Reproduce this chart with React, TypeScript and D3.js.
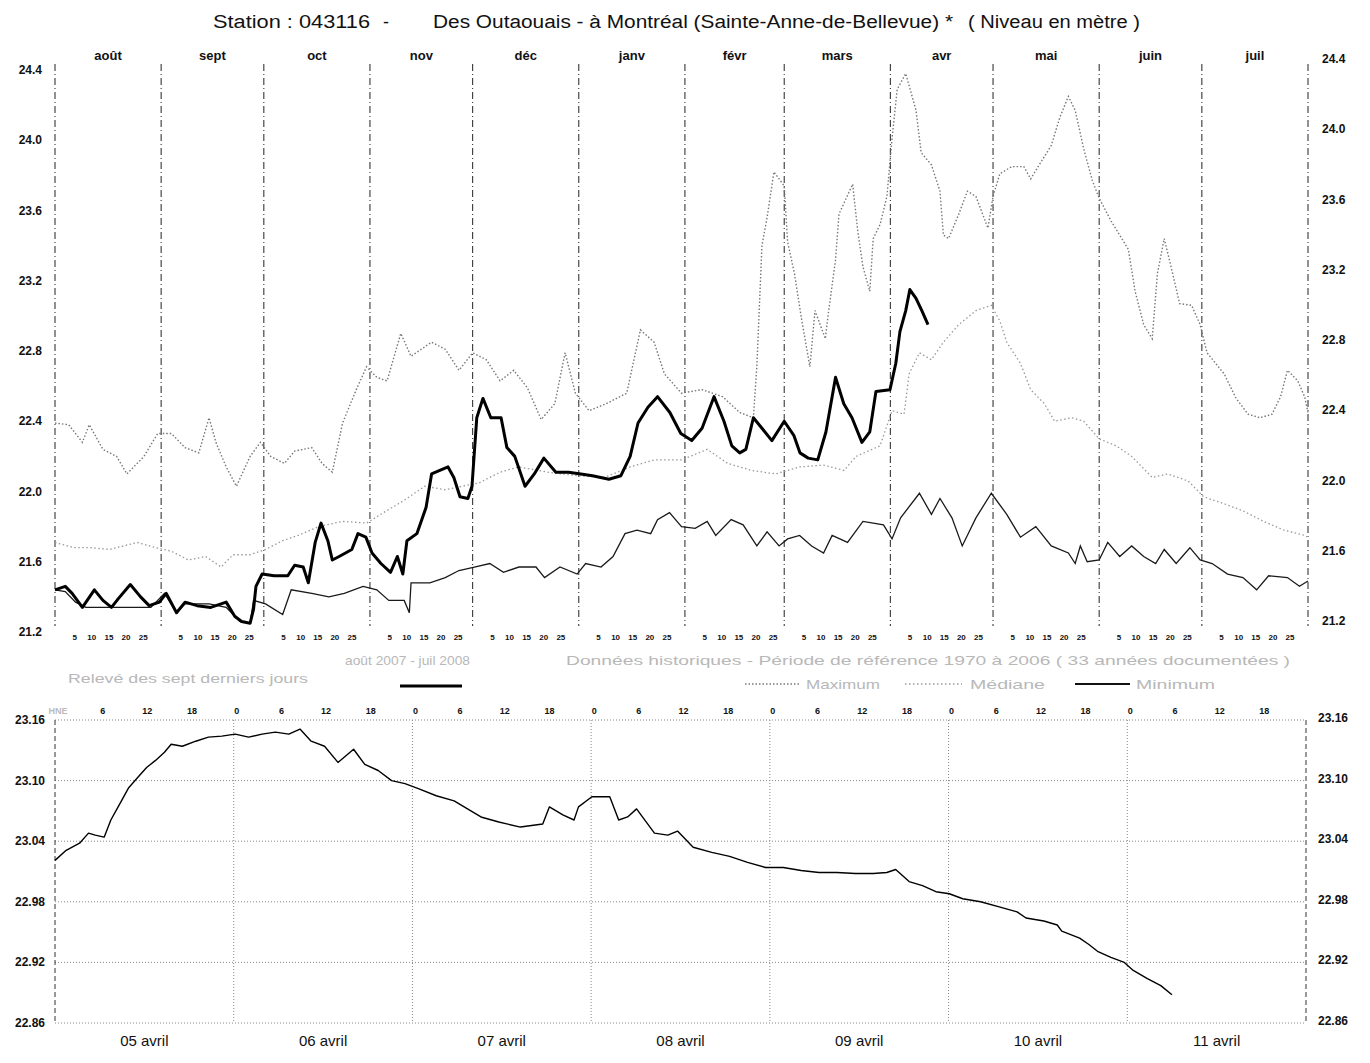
import React from 'react';
import * as d3 from 'd3';

// Station 043116 - Des Outaouais à Montréal (Sainte-Anne-de-Bellevue)
const months = ['août', 'sept', 'oct', 'nov', 'déc', 'janv', 'févr', 'mars', 'avr', 'mai', 'juin', 'juil'];
const dayTicks = [5, 10, 15, 20, 25];
const levelTicks = [21.2, 21.6, 22.0, 22.4, 22.8, 23.2, 23.6, 24.0, 24.4];

// [jours depuis le 1er août, niveau (m)]
const maxSeries: [number, number][] = [
  [0, 22.39], [4, 22.38], [8, 22.28], [10, 22.38], [14, 22.24], [18, 22.2], [21, 22.1], [26, 22.2], [30, 22.33],
  [34, 22.33], [38, 22.25], [42, 22.22], [45, 22.42], [47, 22.28], [50, 22.14], [53, 22.03], [57, 22.2], [60, 22.28],
  [63, 22.2], [67, 22.16], [70, 22.23], [75, 22.25], [78, 22.16], [81, 22.11], [84, 22.39], [88, 22.58], [91, 22.71],
  [94, 22.65], [97, 22.63], [101, 22.9], [104, 22.77], [110, 22.85], [114, 22.81], [118, 22.69], [122, 22.79],
  [126, 22.75], [130, 22.63], [134, 22.69], [138, 22.59], [142, 22.41], [146, 22.5], [149, 22.79], [152, 22.56],
  [156, 22.46], [161, 22.5], [167, 22.56], [171, 22.92], [175, 22.85], [178, 22.67], [183, 22.56], [189, 22.58],
  [195, 22.54], [200, 22.45], [204, 22.42], [205, 22.71], [206.5, 23.4], [208, 23.56], [210, 23.82], [213, 23.74],
  [214, 23.42], [216, 23.24], [218, 22.99], [220.5, 22.71], [222, 23.03], [225, 22.87], [226, 23.03], [228, 23.32],
  [229, 23.58], [233, 23.75], [234.5, 23.48], [236, 23.28], [238, 23.14], [239, 23.44], [241, 23.52], [243, 23.68],
  [244.5, 24.01], [246, 24.29], [248.5, 24.38], [251.5, 24.17], [253, 23.93], [256, 23.86], [258.5, 23.71],
  [259.5, 23.46], [261, 23.44], [264, 23.58], [266.5, 23.71], [269, 23.68], [272.5, 23.5], [274, 23.68], [276, 23.81],
  [279.5, 23.85], [283, 23.85], [285, 23.78], [287.5, 23.86], [291, 23.97], [293.5, 24.13], [296, 24.25], [298, 24.17],
  [300.5, 23.95], [303, 23.77], [305, 23.67], [308.5, 23.54], [313.5, 23.38], [315.5, 23.14], [318, 22.95],
  [320.5, 22.87], [322, 23.24], [324, 23.44], [326, 23.28], [328.5, 23.07], [332, 23.06], [334.5, 22.95],
  [336.5, 22.79], [341.5, 22.67], [345, 22.53], [348.5, 22.44], [352, 22.42], [355.5, 22.44], [358, 22.54],
  [360, 22.69], [363, 22.63], [365, 22.54], [366, 22.45],
];

const medianSeries: [number, number][] = [
  [0, 21.71], [5.5, 21.68], [10.5, 21.68], [16, 21.67], [24, 21.71], [29.5, 21.68], [34, 21.66], [39, 21.61],
  [44, 21.63], [48.5, 21.57], [52, 21.64], [57, 21.64], [61.5, 21.67], [66.5, 21.72], [71, 21.75], [77, 21.8],
  [84, 21.83], [91, 21.82], [96, 21.88], [102, 21.95], [108, 22.03], [114, 22.01], [119, 22.03], [124, 22.05],
  [130, 22.11], [135.5, 22.14], [144, 22.11], [152.5, 22.09], [160.5, 22.08], [168, 22.14], [175, 22.18],
  [183, 22.18], [190.5, 22.24], [196.5, 22.16], [203.5, 22.12], [210.5, 22.1], [217.5, 22.14], [224.5, 22.15],
  [230.5, 22.12], [234, 22.2], [241, 22.26], [244.5, 22.46], [248, 22.44], [249.5, 22.67], [252.5, 22.79],
  [256, 22.75], [259.5, 22.85], [264, 22.95], [269, 23.03], [273.5, 23.06], [276, 22.97], [278, 22.85],
  [282, 22.73], [285, 22.58], [289, 22.5], [292, 22.4], [297, 22.42], [300.5, 22.4], [305, 22.3], [310, 22.26],
  [314.5, 22.2], [320.5, 22.08], [325, 22.1], [331, 22.06], [335.5, 21.97], [341.5, 21.93], [347, 21.89],
  [353, 21.83], [359, 21.78], [365, 21.75], [366, 21.74],
];

const minSeries: [number, number][] = [
  [0, 21.44], [3, 21.43], [6, 21.37], [9, 21.34], [28, 21.34], [32, 21.42], [35.5, 21.31], [38, 21.36], [45, 21.36],
  [50, 21.34], [54, 21.26], [57, 21.25], [58, 21.38], [61.5, 21.36], [66.5, 21.3], [69, 21.44], [75, 21.42],
  [80, 21.4], [84.5, 21.42], [90, 21.46], [94, 21.44], [97.5, 21.38], [102, 21.38], [103.5, 21.31], [104, 21.48],
  [109.5, 21.48], [114, 21.51], [118, 21.55], [122.5, 21.57], [127, 21.59], [131, 21.54], [135.5, 21.57],
  [140.5, 21.57], [143, 21.51], [147.5, 21.57], [152.5, 21.53], [155, 21.59], [159.5, 21.57], [163, 21.63],
  [166.5, 21.76], [170, 21.78], [174, 21.76], [176, 21.84], [179.5, 21.88], [183, 21.8], [187, 21.79],
  [190.5, 21.83], [193, 21.75], [197.5, 21.84], [201, 21.81], [205, 21.69], [208, 21.77], [211.5, 21.69],
  [214, 21.73], [217.5, 21.75], [221, 21.69], [224.5, 21.65], [227, 21.75], [231.5, 21.71], [236, 21.83],
  [242, 21.81], [244.5, 21.73], [247, 21.85], [252.5, 21.99], [256, 21.87], [258.5, 21.96], [262, 21.85],
  [265, 21.69], [269, 21.85], [273.5, 21.99], [278, 21.87], [282, 21.74], [286.5, 21.8], [291, 21.69],
  [296, 21.65], [298, 21.59], [299.5, 21.69], [301.5, 21.6], [305, 21.61], [307.5, 21.71], [311, 21.63],
  [314.5, 21.69], [318, 21.63], [321.5, 21.59], [324, 21.67], [327.5, 21.59], [331.5, 21.68], [334.5, 21.61],
  [338, 21.59], [342.5, 21.53], [347, 21.51], [351, 21.44], [354.5, 21.52], [360, 21.51], [363.5, 21.46],
  [366, 21.49],
];

// août 2007 - juil 2008
const currentSeries: [number, number][] = [
  [0, 21.44], [3, 21.46], [5, 21.42], [8, 21.34], [11.5, 21.44], [14, 21.38], [16.5, 21.34], [18.5, 21.39],
  [22, 21.47], [25, 21.4], [27.5, 21.35], [30.5, 21.37], [32.5, 21.42], [35.5, 21.31], [38, 21.37], [41.5, 21.35],
  [45.5, 21.34], [50, 21.37], [52.5, 21.29], [54.5, 21.26], [57, 21.25], [58, 21.33], [58.7, 21.46], [60.5, 21.53],
  [64, 21.52], [68, 21.52], [70, 21.58], [72.5, 21.57], [74, 21.48], [76, 21.71], [77.7, 21.82], [79.7, 21.72],
  [81, 21.61], [83, 21.63], [86.7, 21.67], [88.5, 21.76], [90.8, 21.74], [92.6, 21.65], [95.2, 21.59], [98, 21.54],
  [100, 21.63], [101.6, 21.53], [102.8, 21.72], [105.7, 21.76], [108.4, 21.91], [110, 22.1], [112.4, 22.12],
  [114.8, 22.14], [116.5, 22.08], [118.3, 21.97], [120.6, 21.96], [121.8, 22.03], [123.2, 22.42], [125, 22.53],
  [127.3, 22.42], [130.3, 22.42], [132, 22.25], [134.3, 22.2], [137.3, 22.03], [140, 22.1], [142.8, 22.19],
  [146.3, 22.11], [150, 22.11], [153.6, 22.1], [157, 22.09], [161.8, 22.07], [165.3, 22.09], [168, 22.2],
  [170.3, 22.39], [173.2, 22.48], [176, 22.54], [179.6, 22.45], [182.8, 22.33], [186, 22.29], [189, 22.36],
  [192.5, 22.54], [195.4, 22.4], [197.7, 22.26], [200, 22.22], [201.8, 22.24], [204, 22.42], [206.5, 22.36],
  [209.4, 22.29], [213, 22.4], [215.8, 22.32], [217.6, 22.22], [220, 22.19], [222.8, 22.18], [225.2, 22.34],
  [228, 22.65], [230.4, 22.5], [232.8, 22.42], [235.7, 22.28], [238, 22.34], [239.8, 22.57], [243.9, 22.58],
  [245.6, 22.73], [246.8, 22.91], [248.5, 23.03], [249.7, 23.15], [251.5, 23.1], [253.2, 23.03], [255, 22.95],
];

// relevé des sept derniers jours : [heures depuis le 05 avril 0h, niveau (m)]
const recentSeries: [number, number][] = [
  [0, 23.021], [1.5, 23.031], [3.3, 23.038], [4.5, 23.048], [5.4, 23.046], [6.6, 23.044], [7.5, 23.061],
  [8.7, 23.077], [9.9, 23.093], [11.1, 23.103], [12.3, 23.113], [13.5, 23.12], [14.7, 23.128], [15.6, 23.136],
  [17.1, 23.134], [18.9, 23.139], [20.6, 23.143], [22.4, 23.144], [24.2, 23.146], [26, 23.143], [27.8, 23.146],
  [29.6, 23.148], [31.4, 23.146], [32.9, 23.151], [34.4, 23.139], [36.2, 23.134], [38, 23.118], [40.1, 23.131],
  [41.6, 23.116], [43.4, 23.11], [45.2, 23.1], [47, 23.097], [48.8, 23.092], [51.2, 23.085], [53.6, 23.08],
  [55.4, 23.072], [57.2, 23.064], [59.6, 23.059], [62.5, 23.054], [65.5, 23.057], [66.4, 23.074], [68.2, 23.066],
  [69.7, 23.061], [70.3, 23.074], [72.1, 23.084], [74.5, 23.084], [75.7, 23.061], [76.9, 23.064], [78.1, 23.072],
  [80.5, 23.048], [82.3, 23.046], [83.6, 23.05], [85.7, 23.034], [88.2, 23.029], [90.6, 23.025], [93, 23.019],
  [95.4, 23.014], [97.8, 23.014], [100.2, 23.011], [102.6, 23.009], [105, 23.009], [107.5, 23.008], [109.9, 23.008],
  [111.7, 23.009], [112.9, 23.012], [114.7, 23.0], [116.5, 22.996], [118.3, 22.99], [120.1, 22.988], [121.9, 22.983],
  [124.3, 22.98], [126.8, 22.975], [129.2, 22.97], [130.4, 22.964], [132.8, 22.961], [134.6, 22.957],
  [135.2, 22.951], [137.6, 22.944], [138.8, 22.938], [140, 22.931], [141.8, 22.925], [143.6, 22.92],
  [144.8, 22.912], [146.7, 22.904], [148.5, 22.897], [150, 22.888],
];
const recentDays = ['05 avril', '06 avril', '07 avril', '08 avril', '09 avril', '10 avril', '11 avril'];
const recentTicks = [22.86, 22.92, 22.98, 23.04, 23.10, 23.16];

const FONT = "'Liberation Sans', Arial, sans-serif";
const LEGEND = '#b8b8b8';

export default function App() {
  const start = new Date(2007, 7, 1);
  const monthStarts = d3.range(13).map(i => d3.timeDay.count(start, new Date(2007, 7 + i, 1)));

  const x = d3.scaleLinear().domain([0, monthStarts[12]]).range([55, 1308]);
  const y = d3.scaleLinear().domain([21.2, 24.4]).range([632, 70]);
  const xb = d3.scaleLinear().domain([0, 168]).range([55, 1306]);
  const yb = d3.scaleLinear().domain([22.86, 23.16]).range([1023, 720]);

  const line = d3.line<[number, number]>().x(d => x(d[0])).y(d => y(d[1]));
  const lineB = d3.line<[number, number]>().x(d => xb(d[0])).y(d => yb(d[1]));

  const hours = d3.range(0, 168, 6);

  return (
    <svg width={1370} height={1063} style={{ position: 'absolute', left: 0, top: 0, background: '#fff' }}
      fontFamily={FONT}>
      {/* titre */}
      <text x={213} y={28} fontSize={18} fill="#111" textLength={157} lengthAdjust="spacingAndGlyphs">Station : 043116</text>
      <text x={383} y={28} fontSize={18} fill="#111">-</text>
      <text x={433} y={28} fontSize={18} fill="#111" textLength={520} lengthAdjust="spacingAndGlyphs">
        Des Outaouais - à Montréal (Sainte-Anne-de-Bellevue) *
      </text>
      <text x={968} y={28} fontSize={18} fill="#111" textLength={172} lengthAdjust="spacingAndGlyphs">( Niveau en mètre )</text>

      {/* ===== graphique annuel ===== */}
      {monthStarts.map((d, i) => (
        <line key={'m' + i} x1={x(d)} x2={x(d)} y1={64} y2={626} stroke="#222" strokeWidth={1}
          strokeDasharray="7,3,1,3" />
      ))}
      {months.map((m, i) => (
        <text key={'ml' + i} x={x((monthStarts[i] + monthStarts[i + 1]) / 2)} y={60} fontSize={13}
          fontWeight="bold" textAnchor="middle" fill="#111">{m}</text>
      ))}
      {months.map((m, i) => dayTicks.map(t => (
        <text key={'dt' + i + '-' + t} x={x(monthStarts[i] + t - 1) + 6} y={640} fontSize={8} fontWeight="bold"
          textAnchor="middle" fill="#111">{t}</text>
      )))}
      {levelTicks.map(v => (
        <g key={'yl' + v}>
          <text x={42} y={y(v) + 4} fontSize={12} fontWeight="bold" textAnchor="end" fill="#111">{v.toFixed(1)}</text>
          <text x={1322} y={y(v) - 7} fontSize={12} fontWeight="bold" fill="#111">{v.toFixed(1)}</text>
        </g>
      ))}

      <path d={line(maxSeries) || ''} fill="none" stroke="#777" strokeWidth={1.4} strokeDasharray="1.5,2" />
      <path d={line(medianSeries) || ''} fill="none" stroke="#999" strokeWidth={1.3} strokeDasharray="1.5,2.5" />
      <path d={line(minSeries) || ''} fill="none" stroke="#1a1a1a" strokeWidth={1.3} />
      <path d={line(currentSeries) || ''} fill="none" stroke="#000" strokeWidth={3} strokeLinejoin="round" />

      {/* légende */}
      <text x={345} y={665} fontSize={13} fill={LEGEND} textLength={125} lengthAdjust="spacingAndGlyphs">août 2007 - juil 2008</text>
      <line x1={400} x2={462} y1={686} y2={686} stroke="#000" strokeWidth={3} />
      <text x={566} y={665} fontSize={13} fill={LEGEND} textLength={724} lengthAdjust="spacingAndGlyphs">
        Données historiques  - Période de référence 1970 à 2006  ( 33 années documentées )
      </text>
      <text x={68} y={683} fontSize={13} fill={LEGEND} textLength={240} lengthAdjust="spacingAndGlyphs">Relevé des sept derniers jours</text>
      <line x1={745} x2={800} y1={684} y2={684} stroke="#777" strokeWidth={1.4} strokeDasharray="1.5,2" />
      <text x={806} y={689} fontSize={13} fill={LEGEND} textLength={74} lengthAdjust="spacingAndGlyphs">Maximum</text>
      <line x1={905} x2={962} y1={684} y2={684} stroke="#999" strokeWidth={1.3} strokeDasharray="1.5,2.5" />
      <text x={970} y={689} fontSize={13} fill={LEGEND} textLength={75} lengthAdjust="spacingAndGlyphs">Médiane</text>
      <line x1={1075} x2={1130} y1={684} y2={684} stroke="#111" strokeWidth={2} />
      <text x={1136} y={689} fontSize={13} fill={LEGEND} textLength={79} lengthAdjust="spacingAndGlyphs">Minimum</text>

      {/* ===== sept derniers jours ===== */}
      {recentTicks.map(v => (
        <g key={'rb' + v}>
          <line x1={xb(0)} x2={xb(168)} y1={yb(v)} y2={yb(v)} stroke="#888" strokeWidth={1} strokeDasharray="1,2" />
          <text x={45} y={yb(v) + 4} fontSize={12} fontWeight="bold" textAnchor="end" fill="#111">{v.toFixed(2)}</text>
          <text x={1318} y={yb(v) + 2} fontSize={12} fontWeight="bold" fill="#111">{v.toFixed(2)}</text>
        </g>
      ))}
      {d3.range(0, 169, 24).map((h, i) => (
        <line key={'vb' + h} x1={xb(h)} x2={xb(h)} y1={yb(23.16)} y2={yb(22.86)}
          stroke={i === 0 || i === 7 ? '#333' : '#888'} strokeWidth={1}
          strokeDasharray={i === 0 || i === 7 ? '5,3' : '1,2'} />
      ))}
      {hours.map(h => (
        <text key={'h' + h} x={xb(h) + 3} y={714} fontSize={9} fontWeight="bold" textAnchor="middle"
          fill={h === 0 ? '#bbb' : '#111'}>{h === 0 ? 'HNE' : String(h % 24)}</text>
      ))}
      {recentDays.map((d, i) => (
        <text key={'rd' + d} x={xb(i * 24 + 12)} y={1046} fontSize={15} textAnchor="middle"
          fill="#111">{d}</text>
      ))}
      <path d={lineB(recentSeries) || ''} fill="none" stroke="#000" strokeWidth={1.4} strokeLinejoin="round" />
    </svg>
  );
}
